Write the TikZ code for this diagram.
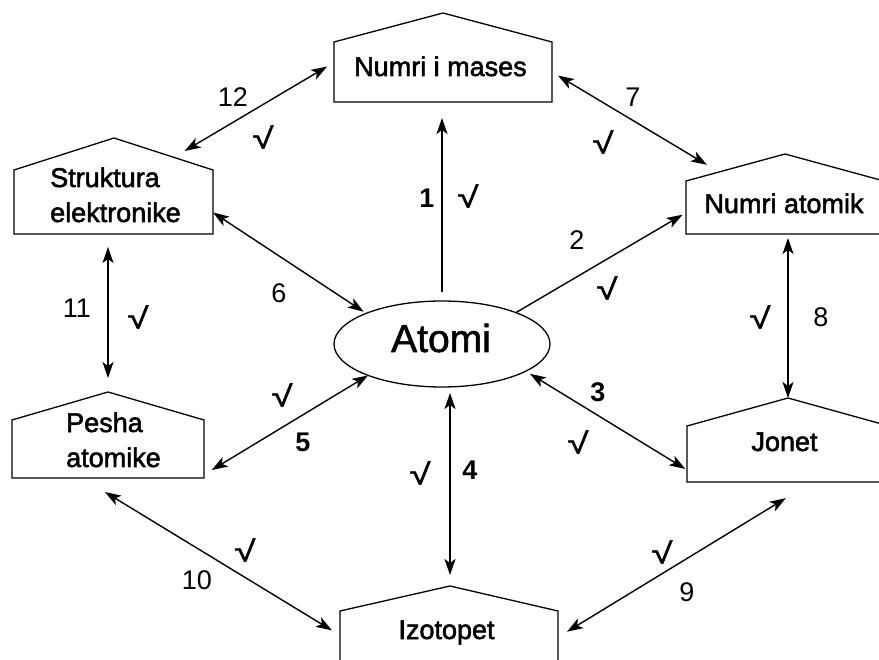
\documentclass[tikz,border=0pt]{standalone}
\usepackage{fontspec}
\setmainfont{Liberation Sans}
\newfontfamily\regthick{Liberation Sans}[FakeBold=2]
\newfontfamily\regmid{Liberation Sans}[FakeBold=1.5]
\newfontfamily\boldlab{Liberation Sans Bold}
\usetikzlibrary{arrows.meta,calc,shapes.geometric}
\begin{document}
\begin{tikzpicture}[x=1pt,y=-1pt,
  anch/.style={inner sep=0pt, outer sep=0pt},
  house/.style={draw, line width=1.3pt, line join=miter},
  btxt/.style={font=\fontsize{27}{32}\selectfont\regthick, inner sep=0pt, anchor=base},
  ltxt/.style={font=\fontsize{27}{32}\selectfont\regthick, inner sep=0pt, anchor=base west},
  nlab/.style={font=\fontsize{27}{32}\selectfont, inner sep=0pt},
  blab/.style={font=\fontsize{27}{32}\selectfont\boldlab, inner sep=0pt},
  ck/.style={font=\fontsize{27}{32}\selectfont\regmid, inner sep=0pt},
  tip/.tip={Stealth[length=16pt,width=11pt,inset=4pt]},
  sgl/.style={line width=1.4pt, -tip},
  dbl/.style={line width=1.4pt, tip-tip},
]
\newcommand\chk{\resizebox{21pt}{23pt}{√}}
\useasboundingbox (0,0) rectangle (879,660);

% house-shaped boxes (rectangle part as node, roof apex as coordinate)
\node[anch, minimum width=218pt, minimum height=60pt] (mases) at (443,72) {};
\coordinate (mases-top) at (443,13);
\node[anch, minimum width=199pt, minimum height=64pt] (struk) at (113.5,202) {};
\coordinate (struk-top) at (114,138);
\node[anch, minimum width=192pt, minimum height=58pt] (pesha) at (108,449) {};
\coordinate (pesha-top) at (108,392);
\node[anch, minimum width=198pt, minimum height=53pt] (natom) at (785,207.5) {};
\coordinate (natom-top) at (785,154);
\node[anch, minimum width=202pt, minimum height=56pt] (jonet) at (788,454) {};
\coordinate (jonet-top) at (788,398);
\node[anch, minimum width=218pt, minimum height=60pt] (izo) at (449,641) {};
\coordinate (izo-top) at (450,586);

\foreach \b in {mases,struk,pesha,natom,jonet,izo}{
  \draw[house] (\b.north west) -- (\b-top) -- (\b.north east) -- (\b.south east) -- (\b.south west) -- cycle;
}

% central ellipse
\node[draw, ellipse, line width=1.3pt, anch, minimum width=216pt, minimum height=86pt] (atomi) at (442,344) {};
\node[anch, font=\fontsize{39}{46}\selectfont\regmid, anchor=base] (atomi-t) at (441,352) {Atomi};

% box texts
\node[btxt] (mases-t) at (440.5,76) {Numri i mases};
\node[ltxt] (struk-t1) at (50,187) {Struktura};
\node[ltxt] (struk-t2) at (50,222) {elektronike};
\node[ltxt] (pesha-t1) at (66,432) {Pesha};
\node[ltxt] (pesha-t2) at (66,467) {atomike};
\node[btxt] (natom-t) at (784,213) {Numri atomik};
\node[btxt] (jonet-t) at (784.5,451) {Jonet};
\node[btxt] (izo-t) at (446.5,639) {Izotopet};

% connectors
\draw[sgl, shorten <=9pt, shorten >=16pt] (atomi.north) -- (atomi.north |- mases.south);
\draw[sgl, shorten >=4pt] (atomi.23) -- (natom.183);
\draw[dbl, shorten <=5pt, shorten >=2pt] (atomi.-18) -- (jonet.189);
\draw[dbl, shorten <=6pt, shorten >=11pt] (atomi.south -| izo-top) -- (izo-top);
\draw[dbl, shorten >=9pt] (atomi.203) -- (pesha.-15);
\draw[dbl, shorten <=3pt] (atomi.158) -- (struk.-6);
\draw[dbl, shorten <=7pt, shorten >=14pt] (mases.east) -- ($(natom.north west)!0.333!(natom-top)$);
\draw[dbl, shorten <=4pt] (jonet-top |- natom.south) -- (jonet-top);
\draw[dbl, shorten <=10.5pt, shorten >=31pt] (izo.2) -- (jonet.-49);
\draw[dbl, shorten <=27pt, shorten >=9.4pt] (pesha.228) -- (izo.177);
\draw[dbl, shorten <=13pt, shorten >=14pt] (struk.south -| pesha-top) -- (pesha-top);
\draw[dbl, shorten <=12.5pt, shorten >=8pt] ($(struk-top)!0.605!(struk.north east)$) -- (mases.175);

% labels
\node[blab] (l1) at (427,198) {1};   \node[ck] (c1) at (468,196) {\chk};
\node[nlab] (l2) at (577,240) {2};   \node[ck] (c2) at (607,288) {\chk};
\node[blab] (l3) at (598,392) {3};   \node[ck] (c3) at (578,442) {\chk};
\node[blab] (l4) at (470,470) {4};   \node[ck] (c4) at (420,473) {\chk};
\node[blab] (l5) at (303,442) {5};   \node[ck] (c5) at (282,395) {\chk};
\node[nlab] (l6) at (279,293) {6};
\node[nlab] (l7) at (633,97) {7};    \node[ck] (c7) at (603,142) {\chk};
\node[nlab] (l8) at (821,317) {8};   \node[ck] (c8) at (760,317) {\chk};
\node[nlab] (l9) at (687,592) {9};   \node[ck] (c9) at (662,552) {\chk};
\node[nlab] (l10) at (197,580) {10}; \node[ck] (c10) at (245,550) {\chk};
\node[nlab] (l11) at (77,308) {11};  \node[ck] (c11) at (138,317) {\chk};
\node[nlab] (l12) at (233,97) {12};  \node[ck] (c12) at (263,137) {\chk};
\end{tikzpicture}
\end{document}
